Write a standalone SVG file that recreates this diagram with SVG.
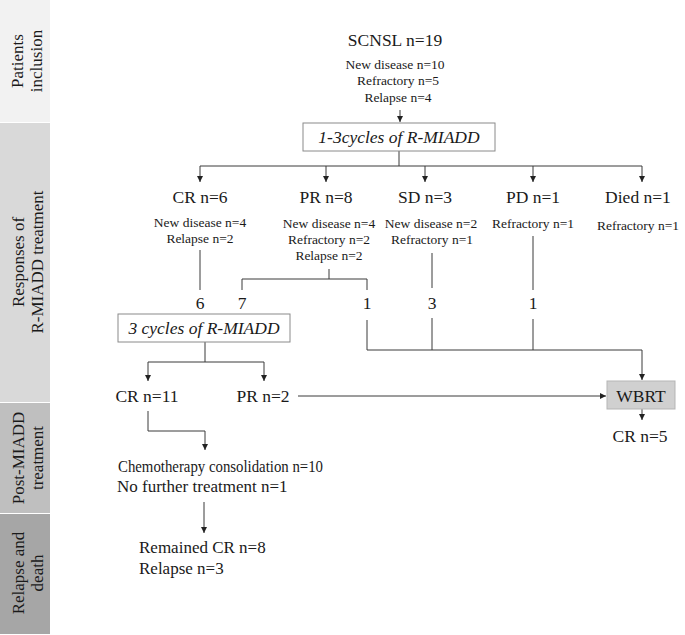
<svg xmlns="http://www.w3.org/2000/svg" width="685" height="635" viewBox="0 0 685 635">
<defs>
<marker id="ah" markerUnits="userSpaceOnUse" markerWidth="7" markerHeight="7" refX="6" refY="3" orient="auto">
<path d="M0,0 L6,3 L0,6 z" fill="#222"/>
</marker>
<style>
text{font-family:"Liberation Serif","Times New Roman",serif;fill:#1a1a1a}
.big{font-size:17.5px;text-anchor:middle}
.sm{font-size:13.5px;text-anchor:middle}
.band{font-size:17px;text-anchor:middle}
.it{font-style:italic;font-size:17.5px;text-anchor:middle}
.ln{stroke:#3a3a3a;stroke-width:1;fill:none}
.ar{stroke:#3a3a3a;stroke-width:1;fill:none;marker-end:url(#ah)}
.box{fill:#fff;stroke:#8a8a8a;stroke-width:1}
</style>
</defs>
<rect width="685" height="635" fill="#fff"/>
<g id="bands">
<rect x="0" y="0" width="50" height="122" fill="#f2f2f2"/>
<rect x="0" y="123" width="50" height="279" fill="#d9d9d9"/>
<rect x="0" y="403" width="50" height="110" fill="#bfbfbf"/>
<rect x="0" y="514" width="50" height="120" fill="#a6a6a6"/>
<text class="band" transform="translate(23,61) rotate(-90)">Patients</text>
<text class="band" transform="translate(42,61) rotate(-90)">inclusion</text>
<text class="band" transform="translate(24,262) rotate(-90)">Responses of</text>
<text class="band" transform="translate(43,262) rotate(-90)">R-MIADD treatment</text>
<text class="band" transform="translate(24,458) rotate(-90)">Post-MIADD</text>
<text class="band" transform="translate(43,458) rotate(-90)">treatment</text>
<text class="band" transform="translate(24,573) rotate(-90)">Relapse and</text>
<text class="band" transform="translate(43,573) rotate(-90)">death</text>
</g>
<g id="connectors">
<path class="ar" d="M400,110 V122"/>
<path class="ln" d="M399,151 V166" stroke-width="1.6"/>
<path class="ln" d="M200,166 H642"/>
<path class="ar" d="M200,166 V182"/>
<path class="ar" d="M326,166 V182"/>
<path class="ar" d="M425,166 V182"/>
<path class="ar" d="M533,166 V182"/>
<path class="ar" d="M642,166 V182"/>
<path class="ln" d="M200,250 V290"/>
<path class="ln" d="M329,269 V279 M242,290 V279 H367 V290"/>
<path class="ln" d="M432,253 V288"/>
<path class="ln" d="M533,236 V290"/>
<path class="ln" d="M205,342 V362 M148,362 H264"/>
<path class="ar" d="M148,362 V381"/>
<path class="ar" d="M264,362 V381"/>
<path class="ln" d="M432,318 V350 M533,319 V350"/>
<path class="ar" d="M367,320 V350 H642 V380"/>
<path class="ar" d="M298,396 H606"/>
<path class="ar" d="M642,409 V420"/>
<path class="ar" d="M148,411 V431 H205 V450"/>
<path class="ar" d="M204,502 V533"/>
</g>
<g id="n-scnsl">
<text class="big" x="395" y="46">SCNSL n=19</text>
<text class="sm" x="395" y="69">New disease n=10</text>
<text class="sm" x="398" y="85">Refractory n=5</text>
<text class="sm" x="398" y="102">Relapse n=4</text>
</g>
<g id="n-cycles13">
<rect class="box" x="303" y="123" width="192" height="28"/>
<text class="it" x="399" y="143">1-3cycles of R-MIADD</text>
</g>
<g id="n-cr6">
<text class="big" x="200" y="203">CR n=6</text>
<text class="sm" x="200" y="227">New disease n=4</text>
<text class="sm" x="200" y="243">Relapse n=2</text>
</g>
<g id="n-pr8">
<text class="big" x="326" y="203">PR n=8</text>
<text class="sm" x="329" y="228">New disease n=4</text>
<text class="sm" x="329" y="244">Refractory n=2</text>
<text class="sm" x="329" y="260">Relapse n=2</text>
</g>
<g id="n-sd3">
<text class="big" x="425" y="203">SD n=3</text>
<text class="sm" x="431" y="228">New disease n=2</text>
<text class="sm" x="432" y="244">Refractory n=1</text>
</g>
<g id="n-pd1">
<text class="big" x="533" y="203">PD n=1</text>
<text class="sm" x="533" y="228">Refractory n=1</text>
</g>
<g id="n-died1">
<text class="big" x="638" y="203">Died n=1</text>
<text class="sm" x="638" y="230">Refractory n=1</text>
</g>
<g id="n-counts">
<text class="big" x="200" y="309">6</text>
<text class="big" x="242" y="309">7</text>
<text class="big" x="367" y="309">1</text>
<text class="big" x="432" y="309">3</text>
<text class="big" x="533" y="309">1</text>
</g>
<g id="n-cycles3">
<rect class="box" x="118" y="314" width="172" height="28"/>
<text class="it" x="204" y="334">3 cycles of R-MIADD</text>
</g>
<g id="n-cr11">
<text class="big" x="147" y="402">CR n=11</text>
</g>
<g id="n-pr2">
<text class="big" x="263" y="402">PR n=2</text>
</g>
<g id="n-wbrt">
<rect x="607" y="381" width="68" height="28" fill="#d0d0d0" stroke="#b5b5b5"/>
<text class="big" x="641" y="402">WBRT</text>
</g>
<g id="n-cr5">
<text class="big" x="640" y="442">CR n=5</text>
</g>
<g id="n-post">
<text style="font-size:17px" x="118" y="472" textLength="205" lengthAdjust="spacingAndGlyphs">Chemotherapy consolidation n=10</text>
<text style="font-size:17px" x="117" y="492">No further treatment n=1</text>
</g>
<g id="n-relapse">
<text style="font-size:17px" x="139" y="553">Remained CR n=8</text>
<text style="font-size:17px" x="139" y="574">Relapse n=3</text>
</g>
</svg>
